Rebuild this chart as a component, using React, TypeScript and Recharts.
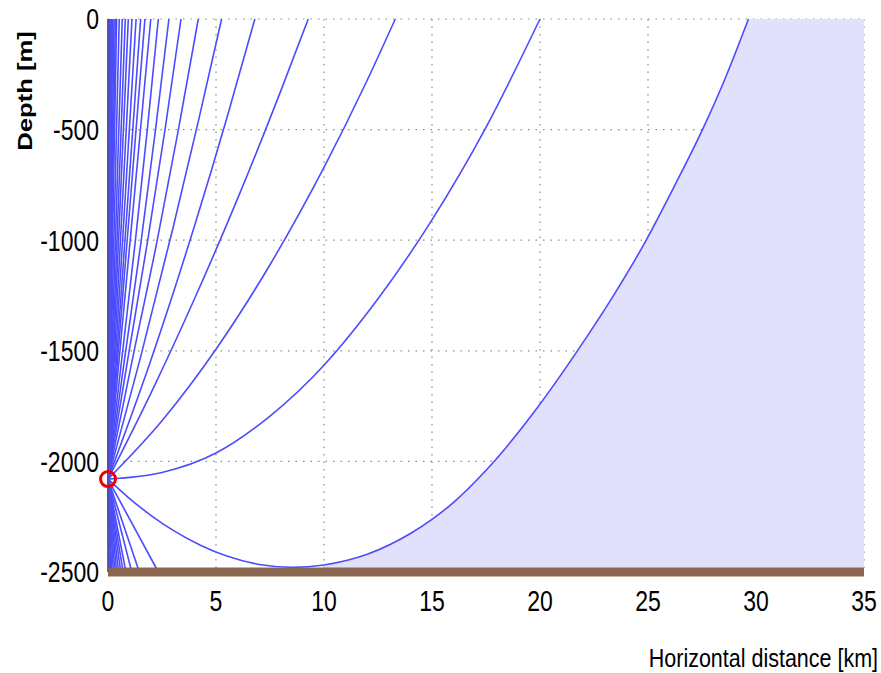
import {
  Area,
  CartesianGrid,
  ComposedChart,
  Line,
  ReferenceDot,
  ReferenceLine,
  XAxis,
  YAxis,
} from 'recharts'

const RAY_COLOR = '#4c4cff'
const SHADOW_COLOR = '#e1e1fc'
const SEABED_COLOR = '#8b6650'
const FONT = '"Liberation Sans", Arial, sans-serif'

const xTicks = [0, 5, 10, 15, 20, 25, 30, 35]
const depthTicks = [-2500, -2000, -1500, -1000, -500, 0]

const sourceRange = 0
const sourceDepth = -2080
const seabedDepth = -2500

// near-vertical rays, given by where they reach the surface (km)
const steepRayEnds = [
  0.005, 0.015, 0.025, 0.04, 0.06, 0.08, 0.11, 0.14, 0.17, 0.22, 0.28, 0.34,
  0.4, 0.52, 0.66, 0.8, 0.94, 1.11, 1.3, 1.51, 1.71, 1.98,
]

// downward rays, given by where they hit the seabed (km)
const bottomRayEnds = [
  0.01, 0.03, 0.06, 0.09, 0.12, 0.18, 0.25, 0.32, 0.4, 0.49, 0.59, 0.7, 0.83,
  1.1, 1.45, 2.33,
]

// refracted rays that bend noticeably on the way up: [km, depth m]
const bentRays: [number, number][][] = [
  [[0, -2080], [0.68, -1500], [1.27, -1000], [1.82, -500], [2.33, 0]],
  [[0, -2080], [0.82, -1500], [1.54, -1000], [2.2, -500], [2.82, 0]],
  [[0, -2080], [0.98, -1500], [1.84, -1000], [2.64, -500], [3.38, 0]],
  [[0, -2080], [1.21, -1500], [2.28, -1000], [3.26, -500], [4.18, 0]],
  [[0, -2080], [1.5, -1532], [3, -948], [4.2, -455], [5.26, 0]],
  [[0, -2080], [2, -1538], [4, -937], [5.5, -449], [6.8, 0]],
  [[0, -2080], [2, -1689], [4, -1266], [6, -812], [8, -325], [9.27, 0]],
  [
    [0, -2080], [2.5, -1816], [5, -1493], [7.5, -1111], [10, -671],
    [12, -277], [13.3, 0],
  ],
  [
    [0, -2080], [2.5, -2050], [5, -1962], [7.5, -1795], [10, -1565],
    [12.5, -1265], [15, -908], [17.5, -490], [20, 0],
  ],
]

// the ray that just grazes the seabed; everything beyond it is shadow zone
const limitingRay: [number, number][] = [
  [0, -2080], [1, -2168], [2, -2245], [3, -2311], [4.3, -2380], [5.5, -2428],
  [7, -2466], [8.57, -2479], [10, -2468], [12, -2420], [14, -2326],
  [15, -2262], [16, -2185], [17.6, -2030], [19.7, -1780], [21.7, -1505],
  [23.5, -1235], [24.86, -1010], [26.2, -760], [27.5, -505], [28.6, -262],
  [29.65, 0],
]

const toPoints = (pts: [number, number][]) => pts.map(([x, y]) => ({ x, y }))

const straightRays = [
  ...steepRayEnds.map((end) => [
    { x: sourceRange, y: sourceDepth },
    { x: end, y: 0 },
  ]),
  ...bottomRayEnds.map((end) => [
    { x: sourceRange, y: sourceDepth },
    { x: end, y: seabedDepth },
  ]),
]

// shadow zone: under the limiting ray, then the full column out to 35 km
const shadowUnderRay = toPoints(limitingRay.filter(([x]) => x >= 10))
const shadowBeyondRay = [
  { x: 29.6, y: 0 },
  { x: 35, y: 0 },
]

function StretchedTick({
  x,
  y,
  payload,
  anchor,
  dy,
}: {
  x?: number
  y?: number
  payload?: { value: number }
  anchor: 'end' | 'middle'
  dy: string
}) {
  return (
    <text
      transform={`translate(${x},${y}) scale(1,1.25)`}
      textAnchor={anchor}
      dy={dy}
      fontSize={23}
      fontFamily={FONT}
      fill="#000"
    >
      {payload?.value}
    </text>
  )
}

const rayProps = {
  dataKey: 'y',
  stroke: RAY_COLOR,
  strokeWidth: 1.6,
  dot: false,
  activeDot: false,
  isAnimationActive: false,
} as const

export default function App() {
  return (
    <div
      style={{
        position: 'absolute',
        left: 0,
        top: 0,
        width: 881,
        height: 673,
        background: '#fff',
      }}
    >
      <ComposedChart
        width={881}
        height={673}
        margin={{ top: 19, right: 17, bottom: 61, left: 8 }}
      >
        <CartesianGrid
          stroke="#8a8a8a"
          strokeDasharray="1.5 6"
          strokeWidth={1.2}
        />
        <XAxis
          type="number"
          dataKey="x"
          domain={[0, 35]}
          ticks={xTicks}
          height={40}
          tickSize={0}
          tickMargin={19}
          tickLine={false}
          axisLine={false}
          tick={<StretchedTick anchor="middle" dy="0.71em" />}
        />
        <YAxis
          type="number"
          dataKey="y"
          domain={[-2500, 0]}
          ticks={depthTicks}
          width={100}
          tickSize={0}
          tickMargin={9}
          tickLine={false}
          axisLine={{ stroke: '#555', strokeWidth: 1 }}
          tick={<StretchedTick anchor="end" dy="0.36em" />}
        />
        <Area
          data={shadowUnderRay}
          dataKey="y"
          type="monotone"
          baseValue={-2500}
          stroke="none"
          fill={SHADOW_COLOR}
          fillOpacity={1}
          isAnimationActive={false}
        />
        <Area
          data={shadowBeyondRay}
          dataKey="y"
          type="linear"
          baseValue={-2500}
          stroke="none"
          fill={SHADOW_COLOR}
          fillOpacity={1}
          isAnimationActive={false}
        />
        {straightRays.map((ray, i) => (
          <Line key={`s${i}`} data={ray} type="linear" {...rayProps} />
        ))}
        {bentRays.map((ray, i) => (
          <Line
            key={`b${i}`}
            data={toPoints(ray)}
            type="monotone"
            {...rayProps}
          />
        ))}
        <Line data={toPoints(limitingRay)} type="monotone" {...rayProps} />
        <ReferenceLine
          y={seabedDepth}
          stroke={SEABED_COLOR}
          strokeWidth={9}
          ifOverflow="visible"
        />
        <ReferenceDot
          x={sourceRange}
          y={sourceDepth}
          r={7.5}
          fill="none"
          stroke="#ee0000"
          strokeWidth={3}
          ifOverflow="visible"
        />
      </ComposedChart>
      <svg
        width={881}
        height={673}
        style={{ position: 'absolute', left: 0, top: 0, pointerEvents: 'none' }}
      >
        <text
          transform="translate(878,667) scale(1,1.23)"
          textAnchor="end"
          fontSize={21.5}
          fontFamily={FONT}
          fill="#000"
        >
          Horizontal distance [km]
        </text>
        <text
          transform="translate(25,91) scale(1,1.25) rotate(-90)"
          textAnchor="middle"
          dy="0.35em"
          fontSize={20.5}
          fontWeight="bold"
          fontFamily={FONT}
          fill="#000"
        >
          Depth [m]
        </text>
      </svg>
    </div>
  )
}
